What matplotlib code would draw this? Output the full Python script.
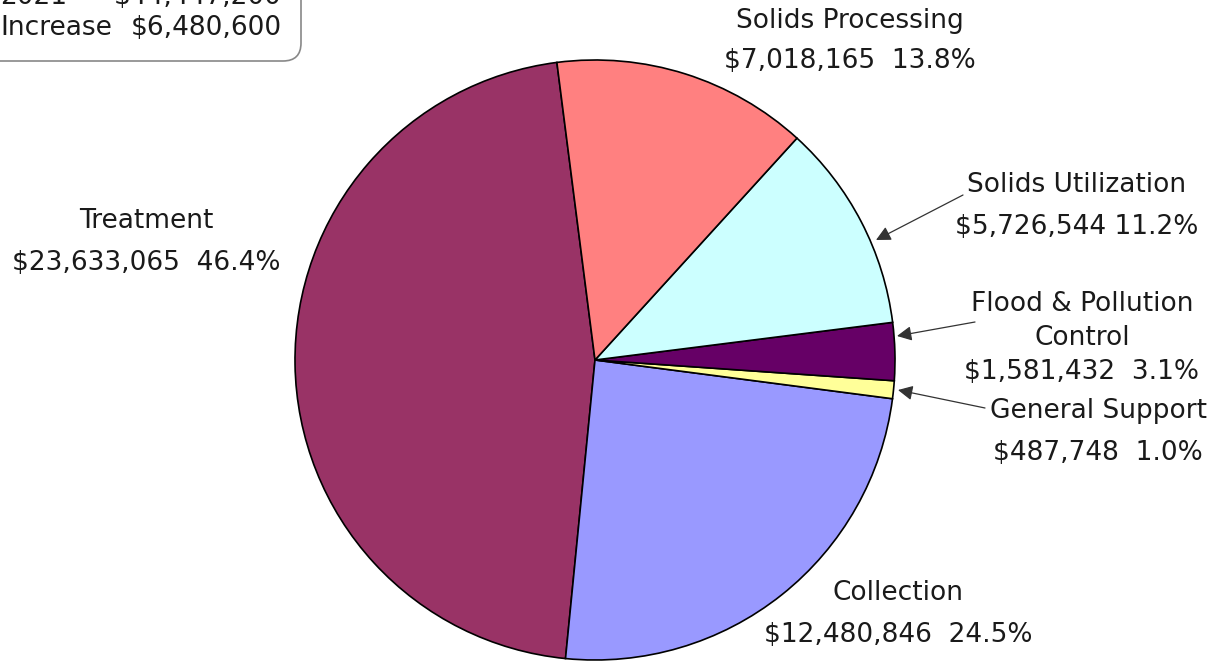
import matplotlib.pyplot as plt
from matplotlib.patches import FancyBboxPatch

# budget by program, in pie order (counter-clockwise from the top)
programs = ['Treatment', 'Collection', 'General Support',
            'Flood & Pollution\nControl', 'Solids Utilization', 'Solids Processing']
amounts = [23633065, 12480846, 487748, 1581432, 5726544, 7018165]
colors = ['#993366', '#9999FF', '#FFFF99', '#660066', '#CCFFFF', '#FF8080']

prior_year = '2021'
prior_total = 44447200
increase = 6480600

plt.rcParams['font.family'] = 'DejaVu Sans'

W, H = 1219, 662
fig = plt.figure(figsize=(W / 100, H / 100), dpi=100)
ax = fig.add_axes([0, 0, 1, 1])

total = sum(amounts)
ax.pie(amounts, colors=colors, startangle=97.3, counterclock=True,
       center=(595, H - 360), radius=300, frame=True,
       wedgeprops=dict(edgecolor='black', linewidth=1.2))
ax.set_xlim(0, W)
ax.set_ylim(0, H)
ax.set_aspect('equal')
ax.axis('off')


def label(i, sep='  '):
    return f'{programs[i]}\n${amounts[i]:,}{sep}{amounts[i] / total * 100:.1f}%'


fs = 19
txt = dict(ha='center', va='center', fontsize=fs, color='#1a1a1a', linespacing=1.75)

ax.text(146, H - 242, label(0), **txt)
ax.text(898, H - 614, label(1), **txt)
ax.text(850, H - 41, label(5), **txt)

arrow = dict(arrowstyle='-|>', color='#333333', lw=0.9, mutation_scale=22,
             shrinkA=0, shrinkB=0)
ax.annotate('', xy=(876, H - 240), xytext=(963, H - 195), arrowprops=arrow)
ax.annotate('', xy=(897, H - 336), xytext=(975, H - 322), arrowprops=arrow)
ax.annotate('', xy=(898, H - 390), xytext=(985, H - 408), arrowprops=arrow)

ax.text(1077, H - 206, label(4, ' '), **txt)
ax.text(1082, H - 338, label(3), ha='center', va='center', fontsize=fs,
        color='#1a1a1a', linespacing=1.4)
ax.text(1098, H - 432, label(2), **txt)

# summary box in the corner
box = FancyBboxPatch((-40, H - 61), 341, 130,
                     boxstyle='round,pad=0,rounding_size=18',
                     facecolor='white', edgecolor='#888888', linewidth=1.2)
ax.add_patch(box)
ax.text(0, H - 28, 'Increase', fontsize=fs, va='center', color='#1a1a1a')
ax.text(282, H - 28, f'${increase:,}', fontsize=fs, va='center', ha='right',
        color='#1a1a1a')
ax.text(0, H + 3, prior_year, fontsize=fs, va='center', color='#1a1a1a')
ax.text(282, H + 3, f'${prior_total:,}', fontsize=fs, va='center', ha='right',
        color='#1a1a1a')

fig.savefig('out.png', dpi=100)
